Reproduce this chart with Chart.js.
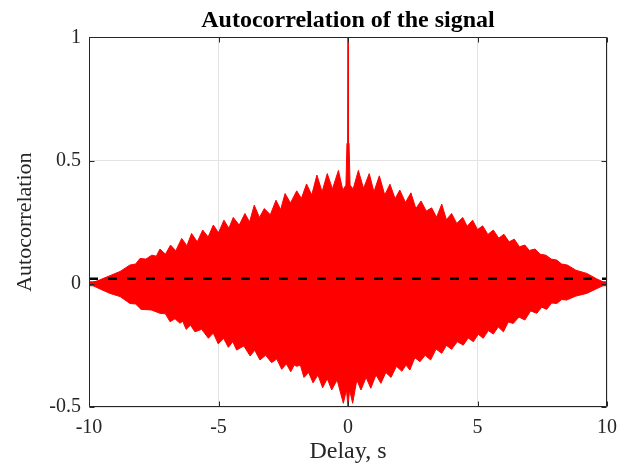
<!DOCTYPE html>
<html><head><meta charset="utf-8">
<script src="https://cdn.jsdelivr.net/npm/chart.js@4/dist/chart.umd.min.js"></script>
<style>html,body{margin:0;padding:0;background:#fff;} #wrap{width:629px;height:466px;}</style>
</head><body><div id="wrap"><canvas id="c" width="629" height="466"></canvas></div>
<script>
const chartTitle = 'Autocorrelation of the signal';
const xAxisTitle = 'Delay, s';
const yAxisTitle = 'Autocorrelation';
const xTicks = [-10, -5, 0, 5, 10];
const yTicks = [-0.5, 0, 0.5, 1];

// upper envelope of the (densely oscillating) autocorrelation
const upperDelay = [-10,-9.6,-9.19,-8.8,-8.42,-8.2,-8.03,-7.8,-7.58,-7.4,-7.26,-7.05,-6.85,-6.65,-6.42,-6.22,-6.04,-5.82,-5.61,-5.4,-5.2,-5.0,-4.79,-4.6,-4.43,-4.2,-3.98,-3.8,-3.62,-3.42,-3.23,-3.0,-2.78,-2.6,-2.43,-2.22,-1.98,-1.8,-1.6,-1.4,-1.2,-1.0,-0.8,-0.6,-0.37,-0.2,-0.08,-0.04,-0.015,0,0.015,0.04,0.08,0.2,0.4,0.6,0.82,1.0,1.21,1.42,1.62,1.82,2.0,2.22,2.43,2.62,2.82,3.02,3.23,3.42,3.62,3.8,4.0,4.2,4.43,4.6,4.81,5.0,5.2,5.4,5.61,5.82,6.02,6.22,6.42,6.62,6.83,7.0,7.22,7.42,7.64,7.85,8.06,8.25,8.47,8.8,9.22,9.6,10];
const upperValue = [0,0.015,0.033,0.05,0.076,0.08,0.103,0.1,0.116,0.112,0.141,0.12,0.157,0.134,0.184,0.154,0.204,0.17,0.218,0.19,0.238,0.207,0.258,0.225,0.269,0.238,0.285,0.251,0.319,0.269,0.305,0.28,0.339,0.301,0.366,0.328,0.377,0.346,0.405,0.36,0.441,0.373,0.447,0.385,0.46,0.38,0.4,0.57,0.57,1.0,0.57,0.57,0.4,0.385,0.46,0.387,0.447,0.373,0.438,0.36,0.404,0.345,0.38,0.33,0.369,0.305,0.336,0.295,0.308,0.27,0.323,0.26,0.285,0.245,0.269,0.233,0.258,0.22,0.235,0.2,0.218,0.185,0.201,0.17,0.181,0.15,0.157,0.135,0.141,0.12,0.116,0.1,0.096,0.08,0.076,0.055,0.042,0.02,0];

// lower envelope
const lowerDelay = [-10,-9.6,-9.19,-8.8,-8.42,-8.2,-7.99,-7.6,-7.26,-7.05,-6.87,-6.68,-6.49,-6.38,-6.25,-6.08,-5.91,-5.65,-5.39,-5.2,-5.01,-4.8,-4.62,-4.45,-4.3,-4.02,-3.78,-3.6,-3.4,-3.18,-2.95,-2.75,-2.56,-2.38,-2.21,-2.08,-1.98,-1.84,-1.7,-1.52,-1.35,-1.16,-0.98,-0.8,-0.63,-0.42,-0.18,-0.06,0,0.06,0.18,0.34,0.5,0.7,0.88,1.08,1.27,1.46,1.66,1.87,2.08,2.24,2.39,2.58,2.78,2.98,3.19,3.4,3.62,3.8,4.0,4.22,4.45,4.64,4.84,5.03,5.22,5.42,5.61,5.8,6.0,6.19,6.38,6.6,6.83,7.05,7.29,7.48,7.67,7.86,8.06,8.25,8.44,8.8,9.22,9.6,10];
const lowerValue = [0,-0.02,-0.039,-0.052,-0.08,-0.082,-0.104,-0.106,-0.12,-0.122,-0.154,-0.142,-0.16,-0.152,-0.185,-0.168,-0.195,-0.185,-0.221,-0.2,-0.244,-0.222,-0.258,-0.235,-0.269,-0.252,-0.293,-0.27,-0.309,-0.29,-0.32,-0.305,-0.347,-0.325,-0.357,-0.33,-0.335,-0.33,-0.38,-0.36,-0.402,-0.37,-0.422,-0.385,-0.431,-0.39,-0.485,-0.43,-0.5,-0.43,-0.485,-0.39,-0.431,-0.38,-0.424,-0.37,-0.404,-0.36,-0.38,-0.335,-0.355,-0.33,-0.35,-0.3,-0.316,-0.29,-0.309,-0.265,-0.282,-0.25,-0.266,-0.235,-0.249,-0.22,-0.235,-0.205,-0.221,-0.19,-0.204,-0.175,-0.195,-0.155,-0.161,-0.135,-0.147,-0.11,-0.12,-0.095,-0.104,-0.078,-0.08,-0.064,-0.066,-0.05,-0.039,-0.02,0];

// dashed reference (mean) line
const meanDelay = [-10, 10];
const meanValue = [0.02, 0.02];

const pts = (xs, ys) => xs.map((x, i) => ({x: x, y: ys[i]}));
const AXIS = '#262626';
const SERIF = '"Liberation Serif", "Times New Roman", serif';

const boxPlugin = {
  id: 'boxPlugin',
  afterDraw(chart) {
    const {ctx, chartArea: a, scales} = chart;
    ctx.save();
    ctx.strokeStyle = AXIS;
    ctx.lineWidth = 1;
    const L = Math.round(a.left) + 0.5, R = Math.round(a.right) - 0.5;
    const T = Math.round(a.top) + 0.5, B = Math.round(a.bottom) - 0.5;
    ctx.beginPath();
    ctx.rect(L, T, R - L, B - T);
    const tl = 5;
    xTicks.forEach(v => {
      const px = Math.round(scales.x.getPixelForValue(v)) + 0.5;
      ctx.moveTo(px, B); ctx.lineTo(px, B - tl);
      ctx.moveTo(px, T); ctx.lineTo(px, T + tl);
    });
    yTicks.forEach(v => {
      const py = Math.round(scales.y.getPixelForValue(v)) + 0.5;
      ctx.moveTo(L, py); ctx.lineTo(L + tl, py);
      ctx.moveTo(R, py); ctx.lineTo(R - tl, py);
    });
    ctx.stroke();
    ctx.restore();
  }
};

new Chart(document.getElementById('c'), {
  type: 'line',
  data: {
    datasets: [
      {
        label: 'mean',
        data: pts(meanDelay, meanValue),
        borderColor: '#000000',
        borderWidth: 2.5,
        borderDash: [9, 10],
        pointRadius: 0,
        fill: false
      },
      {
        label: 'upper',
        data: pts(upperDelay, upperValue),
        borderColor: '#ff0000',
        backgroundColor: '#ff0000',
        borderWidth: 1,
        pointRadius: 0,
        tension: 0,
        fill: {value: -0.01}
      },
      {
        label: 'lower',
        data: pts(lowerDelay, lowerValue),
        borderColor: '#ff0000',
        backgroundColor: '#ff0000',
        borderWidth: 1,
        pointRadius: 0,
        tension: 0,
        fill: {value: 0.01}
      }
    ]
  },
  options: {
    responsive: false,
    animation: false,
    layout: {padding: {left: 0, right: 22, top: 0, bottom: 0}},
    plugins: {
      legend: {display: false},
      tooltip: {enabled: false},
      title: {
        display: true,
        fullSize: false,
        text: chartTitle,
        color: '#000000',
        font: {family: SERIF, size: 24, weight: 'bold', lineHeight: 1.2},
        padding: {top: 6.1, bottom: 2.4}
      }
    },
    scales: {
      x: {
        type: 'linear',
        min: -10, max: 10,
        afterBuildTicks: s => { s.ticks = xTicks.map(v => ({value: v})); },
        afterFit: s => { s.height = 59; },
        grid: {color: '#e3e3e3', drawTicks: false, lineWidth: 1},
        border: {display: false},
        ticks: {color: AXIS, padding: 9, maxRotation: 0, font: {family: SERIF, size: 20}},
        title: {display: true, text: xAxisTitle, color: AXIS, font: {family: SERIF, size: 24}, padding: {top: 0, bottom: 0}}
      },
      y: {
        type: 'linear',
        min: -0.5, max: 1,
        afterBuildTicks: s => { s.ticks = yTicks.map(v => ({value: v})); },
        afterFit: s => { s.width = 89; },
        grid: {color: '#e3e3e3', drawTicks: false, lineWidth: 1},
        border: {display: false},
        ticks: {color: AXIS, padding: 8, font: {family: SERIF, size: 20}, callback: v => String(v)},
        title: {display: true, text: yAxisTitle, color: AXIS, font: {family: SERIF, size: 22}, padding: {top: 12.2, bottom: 0}}
      }
    }
  },
  plugins: [boxPlugin]
});
</script>
</body></html>
